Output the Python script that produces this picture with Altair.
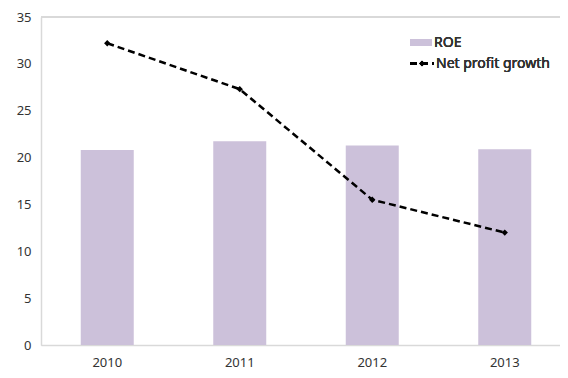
import altair as alt
import pandas as pd

years = ["2010", "2011", "2012", "2013"]
roe = [20.8, 21.75, 21.3, 20.9]
net_profit_growth = [32.2, 27.3, 15.5, 12.0]
y_ticks = [0, 5, 10, 15, 20, 25, 30, 35]

df = pd.DataFrame({"year": years, "roe": roe, "npg": net_profit_growth})

W, H = 519, 328
FONT = "Noto Sans"
BAR = "#CCC1DA"
AX = "#D9D9D9"
TXT = "#333333"

xscale = alt.Scale(paddingInner=0.6, paddingOuter=0.3, range=[0, 530])
x = alt.X("year:N", sort=years, scale=xscale,
          axis=alt.Axis(title=None, labelAngle=0, ticks=False, domain=True,
                        domainColor=AX, domainWidth=1.5, labelFont=FONT,
                        labelFontSize=13, labelColor=TXT, labelPadding=11,
                        labelFontWeight="normal"))
yscale = alt.Scale(domain=[0, 35], nice=False)
yaxis = alt.Axis(title=None, values=y_ticks, ticks=False, grid=False, domain=True,
                 domainColor=AX, domainWidth=1.5, labelFont=FONT, labelFontSize=13,
                 labelColor=TXT, labelPadding=10, labelFontWeight="normal")

bars = alt.Chart(df).mark_bar(color=BAR).encode(
    x=x, y=alt.Y("roe:Q", scale=yscale, axis=yaxis))

line = alt.Chart(df).mark_line(color="black", strokeWidth=2.5, strokeDash=[7, 4]).encode(
    x=alt.X("year:N", sort=years), y=alt.Y("npg:Q", scale=yscale))

pts = alt.Chart(df).mark_point(shape="diamond", filled=True, color="black", size=40, opacity=1).encode(
    x=alt.X("year:N", sort=years), y=alt.Y("npg:Q", scale=yscale))

top_border = alt.Chart(df).mark_rule(color=AX, strokeWidth=1.5).encode(
    x=alt.value(0), x2=alt.value(W), y=alt.value(0))

# legend
leg_rect = alt.Chart(df).mark_rect(color=BAR).encode(
    x=alt.value(369), x2=alt.value(391), y=alt.value(22), y2=alt.value(29))
leg_text1 = alt.Chart(df).mark_text(align="left", baseline="middle", font=FONT, fontSize=14,
                                    fontWeight="normal", color=TXT).encode(
    x=alt.value(393), y=alt.value(25.5), text=alt.value("ROE"))
leg_line = alt.Chart(df).mark_rule(color="black", strokeWidth=2.5, strokeDash=[7, 4]).encode(
    x=alt.value(369), x2=alt.value(393), y=alt.value(46.5))
leg_pt = alt.Chart(df).mark_point(shape="diamond", filled=True, color="black", size=30, opacity=1).encode(
    x=alt.value(381), y=alt.value(46.5))
leg_text2 = alt.Chart(df).mark_text(align="left", baseline="middle", font=FONT, fontSize=14,
                                    fontWeight="normal", color=TXT).encode(
    x=alt.value(395), y=alt.value(46.5), text=alt.value("Net profit growth"))

chart = alt.layer(bars, top_border, line, pts, leg_rect, leg_text1, leg_line, leg_pt, leg_text2).properties(
    width=W, height=H,
    autosize=alt.AutoSizeParams(type="none"),
    padding={"left": 33, "top": 9, "right": 0, "bottom": 25},
).configure_view(stroke=None).configure(background="white")

chart.save("out.html", embed_options={"renderer": "svg", "actions": False})
